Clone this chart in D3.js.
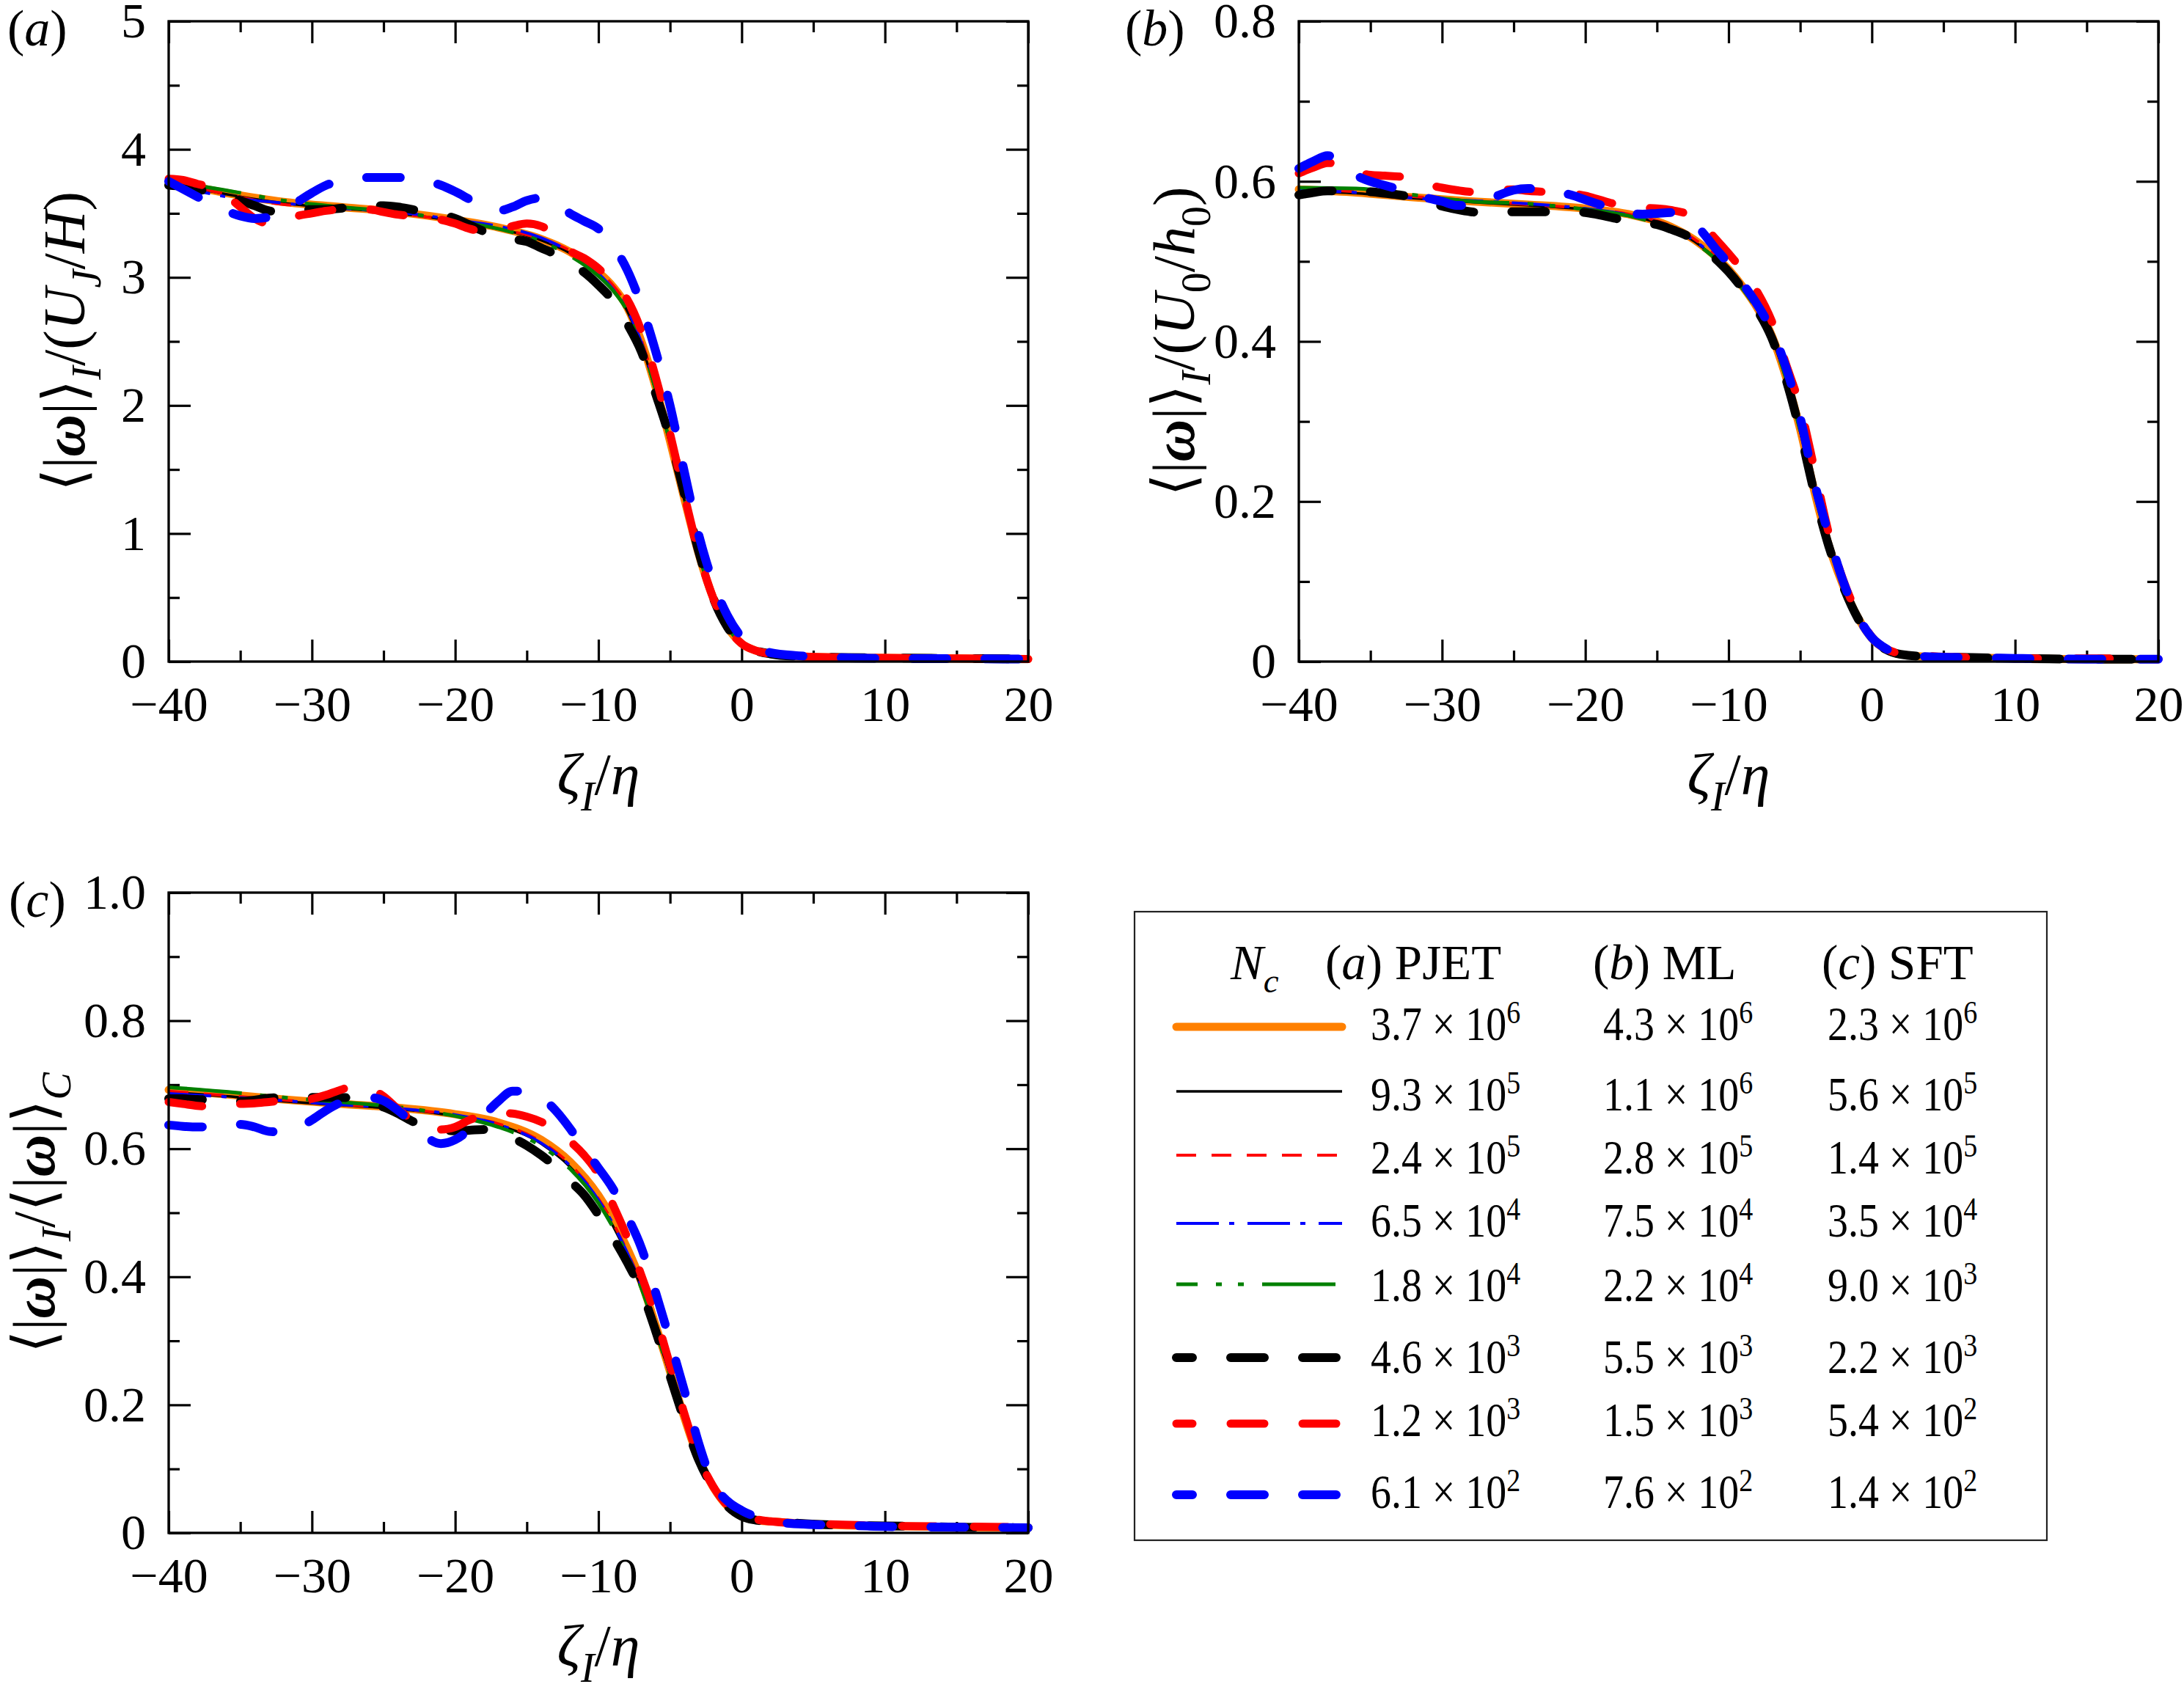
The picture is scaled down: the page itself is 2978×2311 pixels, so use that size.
<!DOCTYPE html>
<html>
<head>
<meta charset="utf-8">
<script src="https://cdn.jsdelivr.net/npm/d3@7"></script>
<style>
  body { margin: 0; background: #fff; }
</style>
</head>
<body>
<svg id="chart"></svg>
<script>
// x positions (zeta_I / eta) used by the smooth curves and by the wiggly coarse-N curves
const xCoarse = [-40, -36, -32, -28, -24, -20, -17, -14, -12, -10, -9, -8, -7, -6, -5, -4, -3, -2, -1, 0, 1, 2, 4, 7, 10, 15, 20];
const xFine = [-40, -39, -38, -37, -36, -35, -34, -33, -32, -31,
  -30, -29, -28, -27, -26, -25, -24, -23, -22, -21,
  -20, -19, -18, -17, -16, -15, -14, -13, -12, -11,
  -10, -9, -8, -7, -6, -5, -4, -3, -2, -1,
  0, 1, 2, 4, 7, 10, 15, 20];

const xTicks = [-40, -30, -20, -10, 0, 10, 20];
const xTickLabels = ['\u221240', '\u221230', '\u221220', '\u221210', '0', '10', '20'];
const xMinor = [-35, -25, -15, -5, 5, 15];

// (a) PJET
const aOrange = [3.75, 3.66, 3.59, 3.55, 3.51, 3.45, 3.39, 3.30, 3.20, 3.04, 2.93, 2.77, 2.50, 2.14, 1.72, 1.27, 0.84, 0.50, 0.27, 0.14, 0.085, 0.06, 0.04, 0.032, 0.028, 0.024, 0.02];
const aBlack = [3.74, 3.65, 3.58, 3.54, 3.50, 3.44, 3.38, 3.29, 3.19, 3.03, 2.91, 2.74, 2.47, 2.11, 1.70, 1.26, 0.84, 0.50, 0.27, 0.14, 0.085, 0.06, 0.04, 0.032, 0.028, 0.024, 0.02];
const aRedThin = [3.76, 3.65, 3.57, 3.55, 3.50, 3.44, 3.38, 3.30, 3.21, 3.05, 2.94, 2.78, 2.51, 2.15, 1.73, 1.28, 0.85, 0.50, 0.27, 0.14, 0.085, 0.06, 0.04, 0.032, 0.028, 0.024, 0.02];
const aBlueDashDot = [3.73, 3.63, 3.58, 3.54, 3.51, 3.45, 3.40, 3.31, 3.20, 3.03, 2.91, 2.75, 2.49, 2.13, 1.72, 1.27, 0.84, 0.50, 0.27, 0.14, 0.085, 0.06, 0.04, 0.032, 0.028, 0.024, 0.02];
const aGreen = [3.75, 3.68, 3.60, 3.55, 3.51, 3.44, 3.38, 3.28, 3.17, 3.01, 2.90, 2.74, 2.48, 2.12, 1.71, 1.27, 0.84, 0.50, 0.27, 0.14, 0.085, 0.06, 0.04, 0.032, 0.028, 0.024, 0.02];
const aBlackThick = [3.72, 3.71, 3.69, 3.66, 3.63, 3.60, 3.56, 3.52, 3.51, 3.52,
  3.53, 3.53, 3.54, 3.55, 3.56, 3.56, 3.55, 3.53, 3.51, 3.49,
  3.46, 3.41, 3.36, 3.33, 3.30, 3.28, 3.23, 3.18, 3.11, 3.04,
  2.94, 2.82, 2.64, 2.42, 2.09, 1.74, 1.31, 0.86, 0.50, 0.27,
  0.14, 0.085, 0.06, 0.04, 0.032, 0.028, 0.024, 0.02];
const aRedThick = [3.77, 3.76, 3.73, 3.70, 3.64, 3.55, 3.46, 3.42, 3.44, 3.48,
  3.50, 3.52, 3.53, 3.53, 3.53, 3.51, 3.49, 3.48, 3.46, 3.45,
  3.42, 3.38, 3.36, 3.37, 3.40, 3.42, 3.40, 3.33, 3.21, 3.15,
  3.07, 2.96, 2.83, 2.58, 2.22, 1.78, 1.30, 0.85, 0.50, 0.27,
  0.14, 0.085, 0.06, 0.04, 0.032, 0.028, 0.024, 0.02];
const aBlueThick = [3.75, 3.69, 3.63, 3.57, 3.52, 3.48, 3.46, 3.47, 3.52, 3.59,
  3.66, 3.72, 3.75, 3.77, 3.78, 3.78, 3.78, 3.77, 3.75, 3.72,
  3.67, 3.61, 3.55, 3.52, 3.55, 3.60, 3.62, 3.58, 3.50, 3.44,
  3.38, 3.25, 3.06, 2.78, 2.42, 2.00, 1.48, 0.99, 0.62, 0.36,
  0.19, 0.10, 0.07, 0.045, 0.03, 0.025, 0.022, 0.02];

// (b) ML
const bOrange = [0.590, 0.586, 0.580, 0.575, 0.571, 0.566, 0.559, 0.543, 0.522, 0.490, 0.468, 0.442, 0.408, 0.356, 0.290, 0.212, 0.145, 0.095, 0.056, 0.029, 0.015, 0.009, 0.006, 0.005, 0.004, 0.003, 0.003];
const bBlack = [0.588, 0.585, 0.579, 0.574, 0.570, 0.565, 0.558, 0.541, 0.520, 0.488, 0.466, 0.440, 0.405, 0.353, 0.287, 0.210, 0.144, 0.094, 0.055, 0.029, 0.015, 0.009, 0.006, 0.005, 0.004, 0.003, 0.003];
const bRedThin = [0.591, 0.587, 0.581, 0.576, 0.571, 0.566, 0.559, 0.544, 0.523, 0.491, 0.469, 0.443, 0.409, 0.357, 0.291, 0.213, 0.146, 0.095, 0.056, 0.029, 0.015, 0.009, 0.006, 0.005, 0.004, 0.003, 0.003];
const bBlueDashDot = [0.589, 0.586, 0.579, 0.576, 0.572, 0.566, 0.558, 0.542, 0.521, 0.489, 0.467, 0.441, 0.407, 0.355, 0.289, 0.211, 0.145, 0.095, 0.056, 0.029, 0.015, 0.009, 0.006, 0.005, 0.004, 0.003, 0.003];
const bGreen = [0.592, 0.591, 0.583, 0.575, 0.572, 0.565, 0.557, 0.540, 0.519, 0.487, 0.465, 0.439, 0.405, 0.354, 0.288, 0.211, 0.145, 0.095, 0.056, 0.029, 0.015, 0.009, 0.006, 0.005, 0.004, 0.003, 0.003];
const bBlackThick = [0.583, 0.586, 0.588, 0.588, 0.587, 0.587, 0.585, 0.583, 0.580, 0.575,
  0.569, 0.565, 0.562, 0.561, 0.561, 0.562, 0.562, 0.562, 0.562, 0.562,
  0.561, 0.558, 0.554, 0.551, 0.548, 0.546, 0.540, 0.533, 0.522, 0.505,
  0.487, 0.465, 0.439, 0.405, 0.353, 0.287, 0.210, 0.144, 0.094, 0.055,
  0.029, 0.015, 0.009, 0.006, 0.005, 0.004, 0.003, 0.003];
const bRedThick = [0.610, 0.617, 0.623, 0.622, 0.612, 0.608, 0.607, 0.606, 0.603, 0.596,
  0.592, 0.589, 0.587, 0.588, 0.589, 0.590, 0.588, 0.587, 0.586, 0.585,
  0.582, 0.577, 0.572, 0.569, 0.567, 0.566, 0.564, 0.560, 0.550, 0.530,
  0.510, 0.488, 0.462, 0.426, 0.372, 0.318, 0.240, 0.160, 0.102, 0.060,
  0.031, 0.016, 0.010, 0.007, 0.005, 0.004, 0.004, 0.003];
const bBlueThick = [0.616, 0.625, 0.632, 0.626, 0.608, 0.600, 0.595, 0.590, 0.584, 0.579,
  0.575, 0.570, 0.570, 0.575, 0.583, 0.589, 0.591, 0.590, 0.587, 0.583,
  0.577, 0.571, 0.565, 0.560, 0.559, 0.560, 0.561, 0.555, 0.540, 0.518,
  0.497, 0.472, 0.446, 0.414, 0.368, 0.305, 0.223, 0.158, 0.100, 0.058,
  0.030, 0.016, 0.009, 0.006, 0.005, 0.004, 0.003, 0.003];

// (c) SFT
const cOrange = [0.692, 0.685, 0.677, 0.670, 0.664, 0.654, 0.641, 0.614, 0.580, 0.527, 0.490, 0.445, 0.392, 0.324, 0.252, 0.180, 0.116, 0.072, 0.042, 0.026, 0.020, 0.018, 0.015, 0.012, 0.011, 0.009, 0.008];
const cBlack = [0.688, 0.682, 0.674, 0.668, 0.662, 0.651, 0.637, 0.608, 0.572, 0.518, 0.480, 0.435, 0.382, 0.316, 0.246, 0.176, 0.114, 0.071, 0.042, 0.026, 0.020, 0.018, 0.015, 0.012, 0.011, 0.009, 0.008];
const cRedThin = [0.690, 0.683, 0.676, 0.669, 0.663, 0.652, 0.639, 0.611, 0.576, 0.522, 0.485, 0.440, 0.387, 0.320, 0.249, 0.178, 0.115, 0.072, 0.042, 0.026, 0.020, 0.018, 0.015, 0.012, 0.011, 0.009, 0.008];
const cBlueDashDot = [0.686, 0.681, 0.675, 0.669, 0.663, 0.653, 0.638, 0.609, 0.574, 0.520, 0.483, 0.438, 0.385, 0.318, 0.248, 0.177, 0.115, 0.071, 0.042, 0.026, 0.020, 0.018, 0.015, 0.012, 0.011, 0.009, 0.008];
const cGreen = [0.696, 0.689, 0.680, 0.673, 0.665, 0.651, 0.634, 0.604, 0.569, 0.515, 0.478, 0.434, 0.382, 0.316, 0.246, 0.176, 0.114, 0.071, 0.042, 0.026, 0.020, 0.018, 0.015, 0.012, 0.011, 0.009, 0.008];
const cBlackThick = [0.678, 0.678, 0.677, 0.676, 0.675, 0.674, 0.676, 0.679, 0.680, 0.680,
  0.680, 0.680, 0.680, 0.678, 0.672, 0.665, 0.655, 0.643, 0.635, 0.630,
  0.628, 0.629, 0.630, 0.627, 0.617, 0.605, 0.590, 0.572, 0.550, 0.528,
  0.497, 0.462, 0.423, 0.378, 0.315, 0.245, 0.176, 0.114, 0.071, 0.042,
  0.026, 0.020, 0.018, 0.015, 0.012, 0.011, 0.009, 0.008];
const cRedThick = [0.673, 0.670, 0.667, 0.666, 0.668, 0.670, 0.671, 0.673, 0.675, 0.676,
  0.678, 0.684, 0.692, 0.698, 0.694, 0.682, 0.662, 0.645, 0.636, 0.630,
  0.634, 0.645, 0.652, 0.656, 0.655, 0.650, 0.642, 0.630, 0.612, 0.590,
  0.560, 0.513, 0.462, 0.402, 0.338, 0.262, 0.186, 0.118, 0.073, 0.043,
  0.027, 0.021, 0.018, 0.015, 0.013, 0.011, 0.010, 0.009];
const cBlueThick = [0.637, 0.635, 0.634, 0.635, 0.638, 0.638, 0.634, 0.627, 0.626, 0.632,
  0.645, 0.660, 0.672, 0.678, 0.680, 0.675, 0.660, 0.640, 0.618, 0.608,
  0.614, 0.630, 0.652, 0.674, 0.690, 0.690, 0.680, 0.660, 0.632, 0.600,
  0.570, 0.538, 0.495, 0.445, 0.375, 0.300, 0.222, 0.140, 0.078, 0.050,
  0.035, 0.025, 0.018, 0.014, 0.012, 0.010, 0.009, 0.008];

// legend: N_c for each flow
const pjetMant = ['3.7', '9.3', '2.4', '6.5', '1.8', '4.6', '1.2', '6.1'];
const pjetExp = ['6', '5', '5', '4', '4', '3', '3', '2'];
const mlMant = ['4.3', '1.1', '2.8', '7.5', '2.2', '5.5', '1.5', '7.6'];
const mlExp = ['6', '6', '5', '4', '4', '3', '3', '2'];
const sftMant = ['2.3', '5.6', '1.4', '3.5', '9.0', '2.2', '5.4', '1.4'];
const sftExp = ['6', '5', '5', '4', '3', '3', '2', '2'];

const FONT = "'Liberation Serif', 'Times New Roman', 'DejaVu Serif', 'DejaVu Sans', serif";
const W = 2978, H = 2311;
const PW = 1172, PH = 873;

// line look for each N_c level, finest first
const seriesStyles = [
  { color: '#ff8000', width: 11, dash: null, cap: 'round' },
  { color: '#000000', width: 3.5, dash: null, cap: 'butt' },
  { color: '#ff0000', width: 4, dash: '27,21', cap: 'butt' },
  { color: '#0000ff', width: 4, dash: '58,14,7,18', cap: 'butt' },
  { color: '#008000', width: 5, dash: '100,25,8,22,8,25', cap: 'butt', legendOffset: 71 },
  { color: '#000000', width: 12, dash: '46,52', cap: 'round', legendOffset: 24 },
  { color: '#ff0000', width: 11, dash: '46,52', cap: 'round', legendOffset: 24 },
  { color: '#0000ff', width: 12, dash: '46,52', cap: 'round', legendOffset: 24 }
];

const omega = { t: '\u03c9', i: 1, b: 1 };
const panels = [
  {
    letter: 'a', left: 230, top: 29, yMax: 5,
    yTicks: [0, 1, 2, 3, 4, 5], yTickLabels: ['0', '1', '2', '3', '4', '5'], yMinor: [0.5, 1.5, 2.5, 3.5, 4.5],
    coarse: [aOrange, aBlack, aRedThin, aBlueDashDot, aGreen],
    fine: [aBlackThick, aRedThick, aBlueThick],
    titleX: 115, letterX: 10,
    yTitle: [{ t: '\u27e8|' }, omega, { t: '|\u27e9' }, { t: 'I', i: 1, sub: 1 }, { t: '/(' }, { t: 'U', i: 1 }, { t: 'J', i: 1, sub: 1 }, { t: '/' }, { t: 'H', i: 1 }, { t: ')' }]
  },
  {
    letter: 'b', left: 1771, top: 29, yMax: 0.8,
    yTicks: [0, 0.2, 0.4, 0.6, 0.8], yTickLabels: ['0', '0.2', '0.4', '0.6', '0.8'], yMinor: [0.1, 0.3, 0.5, 0.7],
    coarse: [bOrange, bBlack, bRedThin, bBlueDashDot, bGreen],
    fine: [bBlackThick, bRedThick, bBlueThick],
    titleX: 1628, letterX: 1534,
    yTitle: [{ t: '\u27e8|' }, omega, { t: '|\u27e9' }, { t: 'I', i: 1, sub: 1 }, { t: '/(' }, { t: 'U', i: 1 }, { t: '0', sub: 1 }, { t: '/' }, { t: 'h', i: 1 }, { t: '0', sub: 1 }, { t: ')' }]
  },
  {
    letter: 'c', left: 230, top: 1217, yMax: 1.0,
    yTicks: [0, 0.2, 0.4, 0.6, 0.8, 1.0], yTickLabels: ['0', '0.2', '0.4', '0.6', '0.8', '1.0'], yMinor: [0.1, 0.3, 0.5, 0.7, 0.9],
    coarse: [cOrange, cBlack, cRedThin, cBlueDashDot, cGreen],
    fine: [cBlackThick, cRedThick, cBlueThick],
    titleX: 74, letterX: 12,
    yTitle: [{ t: '\u27e8|' }, omega, { t: '|\u27e9' }, { t: 'I', i: 1, sub: 1 }, { t: '/\u27e8|' }, omega, { t: '|\u27e9' }, { t: 'C', i: 1, sub: 1 }]
  }
];
const xTitle = [{ t: '\u03b6', i: 1 }, { t: 'I', i: 1, sub: 1 }, { t: '/' }, { t: '\u03b7', i: 1 }];

const svg = d3.select('#chart')
  .attr('width', W)
  .attr('height', H)
  .attr('viewBox', [0, 0, W, H])
  .style('font-family', FONT);

svg.append('rect').attr('width', W).attr('height', H).attr('fill', '#fff');

// mixed italic / bold / sub / superscript text as tspans
function richText(sel, parts, size, supScale = 0.7) {
  let shift = 0;
  parts.forEach(p => {
    const ts = sel.append('tspan').text(p.t);
    const want = p.sub ? size * 0.27 : p.sup ? -size * 0.36 : 0;
    ts.attr('dy', want - shift);
    shift = want;
    if (p.sub) ts.attr('font-size', size * 0.7);
    if (p.sup) ts.attr('font-size', size * supScale);
    if (p.i) ts.attr('font-style', 'italic');
    if (p.b) ts.attr('font-weight', 'bold');
  });
  return sel;
}

function styleAxis(g) {
  g.select('.domain').remove();
  g.selectAll('line').attr('stroke', '#000').attr('stroke-width', 3.2);
  g.selectAll('text').attr('font-size', 68).attr('font-family', FONT).attr('fill', '#000');
}

function drawPanel(p) {
  const x = d3.scaleLinear().domain([-40, 20]).range([p.left, p.left + PW]);
  const y = d3.scaleLinear().domain([0, p.yMax]).range([p.top + PH, p.top]);

  // inward ticks on all four sides
  svg.append('g').attr('transform', `translate(0,${p.top + PH})`)
    .call(d3.axisBottom(x).tickValues(xTicks).tickFormat((d, i) => xTickLabels[i]).tickSize(-30).tickPadding(33))
    .call(styleAxis);
  svg.append('g').attr('transform', `translate(0,${p.top + PH})`)
    .call(d3.axisBottom(x).tickValues(xMinor).tickFormat('').tickSize(-15))
    .call(styleAxis);
  svg.append('g').attr('transform', `translate(0,${p.top})`)
    .call(d3.axisTop(x).tickValues(xTicks).tickFormat('').tickSize(-30))
    .call(styleAxis);
  svg.append('g').attr('transform', `translate(0,${p.top})`)
    .call(d3.axisTop(x).tickValues(xMinor).tickFormat('').tickSize(-15))
    .call(styleAxis);
  svg.append('g').attr('transform', `translate(${p.left},0)`)
    .call(d3.axisLeft(y).tickValues(p.yTicks).tickFormat((d, i) => p.yTickLabels[i]).tickSize(-30).tickPadding(31))
    .call(styleAxis);
  svg.append('g').attr('transform', `translate(${p.left},0)`)
    .call(d3.axisLeft(y).tickValues(p.yMinor).tickFormat('').tickSize(-15))
    .call(styleAxis);
  svg.append('g').attr('transform', `translate(${p.left + PW},0)`)
    .call(d3.axisRight(y).tickValues(p.yTicks).tickFormat('').tickSize(-30))
    .call(styleAxis);
  svg.append('g').attr('transform', `translate(${p.left + PW},0)`)
    .call(d3.axisRight(y).tickValues(p.yMinor).tickFormat('').tickSize(-15))
    .call(styleAxis);

  const line = d3.line()
    .x(d => x(d[0]))
    .y(d => y(d[1]))
    .curve(d3.curveMonotoneX);

  const series = [];
  p.coarse.forEach((vals, k) => series.push({ style: seriesStyles[k], pts: xCoarse.map((xv, i) => [xv, vals[i]]) }));
  p.fine.forEach((vals, k) => series.push({ style: seriesStyles[5 + k], pts: xFine.map((xv, i) => [xv, vals[i]]) }));

  svg.append('g')
    .selectAll('path')
    .data(series)
    .join('path')
    .attr('fill', 'none')
    .attr('stroke', d => d.style.color)
    .attr('stroke-width', d => d.style.width)
    .attr('stroke-dasharray', d => d.style.dash)
    .attr('stroke-linecap', d => d.style.cap)
    .attr('stroke-linejoin', 'round')
    .attr('d', d => line(d.pts));

  svg.append('rect')
    .attr('x', p.left).attr('y', p.top)
    .attr('width', PW).attr('height', PH)
    .attr('fill', 'none').attr('stroke', '#000').attr('stroke-width', 3.3);

  // panel letter
  richText(svg.append('text').attr('x', p.letterX).attr('y', p.top + 33).attr('font-size', 70),
    [{ t: '(' }, { t: p.letter, i: 1 }, { t: ')' }], 70);

  // axis titles
  richText(svg.append('text')
    .attr('x', p.left + PW / 2).attr('y', p.top + 1054)
    .attr('text-anchor', 'middle').attr('font-size', 80), xTitle, 80);

  richText(svg.append('text')
    .attr('transform', `translate(${p.titleX},${p.top + PH / 2}) rotate(-90)`)
    .attr('text-anchor', 'middle').attr('font-size', 80), p.yTitle, 80);
}

panels.forEach(drawPanel);

// legend box
function drawLegend() {
  const box = { x: 1547, y: 1243, w: 1244, h: 857 };
  const lineX = [1604, 1830];
  const lineY = [1400, 1488, 1575, 1668, 1751, 1851, 1941, 2038];
  const textY = [1418, 1514, 1600, 1686, 1774, 1872, 1958, 2056];
  const colX = [1869, 2186, 2492];
  const fs = 65;
  const hs = 67;

  svg.append('rect')
    .attr('x', box.x).attr('y', box.y)
    .attr('width', box.w).attr('height', box.h)
    .attr('fill', '#fff').attr('stroke', '#222').attr('stroke-width', 2.2);

  const g = svg.append('g').attr('fill', '#000');

  const header = [
    [1678, [{ t: 'N', i: 1 }, { t: 'c', i: 1, sub: 1 }]],
    [1807, [{ t: '(' }, { t: 'a', i: 1 }, { t: ') PJET' }]],
    [2172, [{ t: '(' }, { t: 'b', i: 1 }, { t: ') ML' }]],
    [2484, [{ t: '(' }, { t: 'c', i: 1 }, { t: ') SFT' }]]
  ];
  header.forEach(([hx, parts]) => {
    richText(g.append('text').attr('x', hx).attr('y', 1335).attr('font-size', hs), parts, hs);
  });

  g.selectAll('line.key')
    .data(seriesStyles)
    .join('line')
    .attr('class', 'key')
    .attr('x1', lineX[0]).attr('x2', lineX[1])
    .attr('y1', (d, i) => lineY[i]).attr('y2', (d, i) => lineY[i])
    .attr('stroke', d => d.color)
    .attr('stroke-width', d => d.width)
    .attr('stroke-dasharray', d => d.dash)
    .attr('stroke-dashoffset', d => d.legendOffset || 0)
    .attr('stroke-linecap', d => d.cap);

  // the numbers are set in a slightly condensed face in the original
  const cols = [[pjetMant, pjetExp], [mlMant, mlExp], [sftMant, sftExp]];
  cols.forEach(([mant, exp], c) => {
    mant.forEach((m, r) => {
      richText(g.append('text')
        .attr('transform', `translate(${colX[c]},${textY[r]}) scale(0.86,1)`)
        .attr('font-size', fs),
        [{ t: `${m} \u00d7 10` }, { t: exp[r], sup: 1 }], fs, 0.68);
    });
  });
}

drawLegend();
</script>
</body>
</html>
